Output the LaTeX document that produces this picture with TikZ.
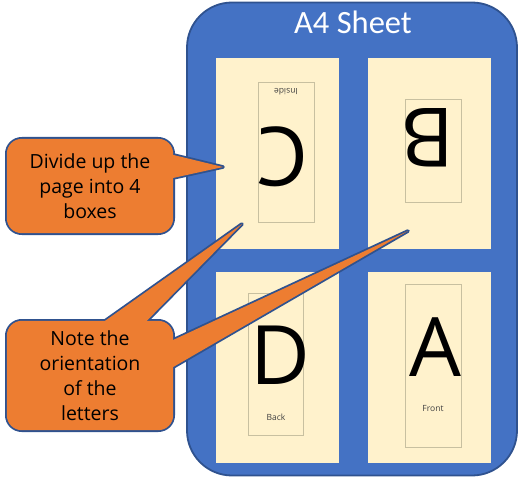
\documentclass[tikz,border=0pt]{standalone}
\usepackage{fontspec}
\setmainfont{Open Sans}
\newfontfamily\titlefont{Carlito}
\usetikzlibrary{positioning,calc}

\definecolor{sheetblue}{HTML}{4472C4}
\definecolor{sheetedge}{HTML}{2F528F}
\definecolor{paper}{HTML}{FFF2CC}
\definecolor{pageline}{HTML}{C8C0A0}
\definecolor{bubble}{HTML}{ED7D31}

\pgfdeclarelayer{bubbles}
\pgfdeclarelayer{labels}
\pgfsetlayers{main,bubbles,labels}

\tikzset{
  quarter/.style={fill=paper,minimum width=123pt,minimum height=191pt,inner sep=0pt,outer sep=0pt},
  fold/.style={draw=pageline,line width=0.6pt,inner sep=0pt},
  letter/.style={font=\fontsize{82}{82}\selectfont,inner sep=0pt},
  side/.style={font=\fontsize{8.5}{9}\selectfont,text=black!75,inner sep=0pt},
  calloutedge/.style={draw=sheetedge,line width=3.6pt,line join=round},
  calloutfill/.style={fill=bubble},
  callout text/.style={align=center,minimum width=166pt,minimum height=94pt,inner sep=0pt,
    font=\fontsize{19.5}{25}\selectfont}
}

\begin{document}
\begin{tikzpicture}[x=1pt,y=1pt]
  \useasboundingbox (0,0) rectangle (519,480);

  % the sheet
  \node (sheet) [draw=sheetedge,line width=1.8pt,fill=sheetblue,rounded corners=45pt,
    minimum width=330pt,minimum height=473pt,inner sep=0pt] at (352,241) {};
  \node (title) [text=white,font=\titlefont\fontsize{32.5}{32.5}\selectfont] at (353,458) {A4 Sheet};

  % the four boxes
  \node (boxC) [quarter] at (277.5,326.5) {};
  \node (boxB) [quarter,right=29pt of boxC] {};
  \node (boxD) [quarter,below=23pt of boxC] {};
  \node (boxA) [quarter,below=23pt of boxB] {};

  % folded pages
  \node (pageC) [fold,minimum width=56pt,minimum height=140pt] at (286,328) {};
  \node (pageB) [fold,minimum width=56pt,minimum height=103pt] at (433,329.5) {};
  \node (pageD) [fold,minimum width=55pt,minimum height=142pt] at (275.5,116) {};
  \node (pageA) [fold,minimum width=56pt,minimum height=163pt] at (433,114.5) {};

  % letters
  \node (letterC) [letter,rotate=180] at (283,323) {C};
  \node (letterB) [letter,rotate=180] at (428,342) {B};
  \node (letterD) [letter] at (280,125) {D};
  \node (letterA) [letter] at (435,133) {A};
  \node (inside) [side,rotate=180] at (286,388) {Inside};
  \node (back) [side] at (276,63) {Back};
  \node (front) [side] at (433,71) {Front};

  % callouts
  \coordinate (tipC) at (223,313);
  \coordinate (tipLeft) at (242,256);
  \coordinate (tipRight) at (408,249);

  \begin{pgfonlayer}{labels}
  \node (divide) [callout text] at (90,294) {Divide up the\\page into 4\\boxes};
  \node (note) [callout text,minimum height=109pt] at (90,104.5) {Note the\\orientation\\of the\\letters};
  \end{pgfonlayer}

  \begin{pgfonlayer}{bubbles}
  \foreach \look in {calloutedge,calloutfill}{
    \path[\look,rounded corners=15pt] (divide.south west) rectangle (divide.north east);
    \path[\look] ($(divide.east)+(-12,34)$) -- (tipC) -- ($(divide.east)+(-12,5.4)$) -- cycle;
    \path[\look,rounded corners=15pt] (note.south west) rectangle (note.north east);
    \path[\look] ($(note.north)+(1,-10)$) -- (tipLeft) -- ($(note.north)+(47,-10)$) -- cycle;
    \path[\look] ($(note.east)+(-12,30)$) -- (tipRight) -- ($(note.east)+(-12,1.5)$) -- cycle;
  }
  \end{pgfonlayer}
\end{tikzpicture}
\end{document}
